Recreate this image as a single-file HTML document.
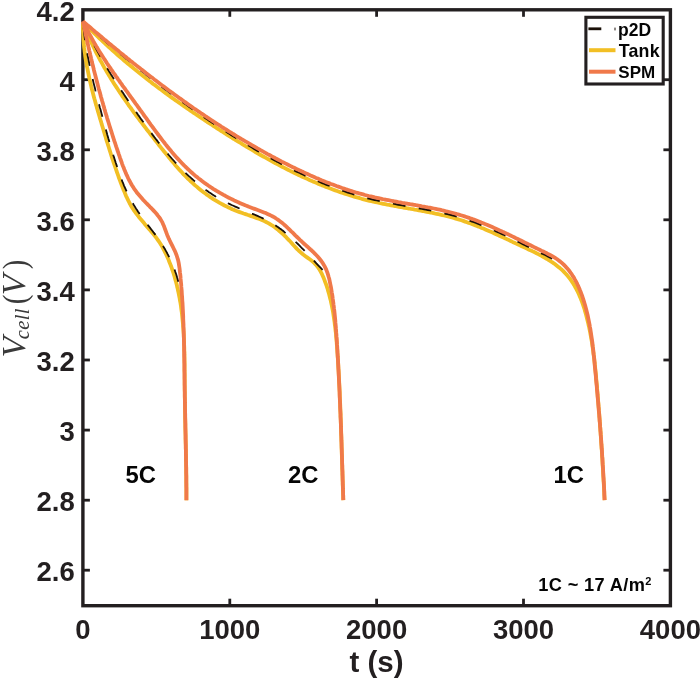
<!DOCTYPE html>
<html><head><meta charset="utf-8"><title>Discharge curves</title>
<style>html,body{margin:0;padding:0;background:#fff}svg{display:block}text{font-family:"Liberation Sans",Arial,sans-serif;font-weight:bold;fill:#231f20}.ser{font-family:"Liberation Serif","Times New Roman",serif;font-weight:normal;fill:#3a3a3a}.k{fill:#050505}</style></head><body>
<svg width="700" height="681" viewBox="0 0 700 681">
<rect width="700" height="681" fill="#fff"/>
<rect x="82.9" y="9.8" width="587.5" height="595.9000000000001" fill="none" stroke="#231f20" stroke-width="3.4"/>
<g stroke="#231f20" stroke-width="2.8"><line x1="229.8" y1="605.7" x2="229.8" y2="598.7"/><line x1="229.8" y1="9.8" x2="229.8" y2="16.8"/><line x1="376.6" y1="605.7" x2="376.6" y2="598.7"/><line x1="376.6" y1="9.8" x2="376.6" y2="16.8"/><line x1="523.5" y1="605.7" x2="523.5" y2="598.7"/><line x1="523.5" y1="9.8" x2="523.5" y2="16.8"/><line x1="82.9" y1="570.2" x2="89.9" y2="570.2"/><line x1="670.4" y1="570.2" x2="663.4" y2="570.2"/><line x1="82.9" y1="500.2" x2="89.9" y2="500.2"/><line x1="670.4" y1="500.2" x2="663.4" y2="500.2"/><line x1="82.9" y1="430.1" x2="89.9" y2="430.1"/><line x1="670.4" y1="430.1" x2="663.4" y2="430.1"/><line x1="82.9" y1="360.0" x2="89.9" y2="360.0"/><line x1="670.4" y1="360.0" x2="663.4" y2="360.0"/><line x1="82.9" y1="289.9" x2="89.9" y2="289.9"/><line x1="670.4" y1="289.9" x2="663.4" y2="289.9"/><line x1="82.9" y1="219.8" x2="89.9" y2="219.8"/><line x1="670.4" y1="219.8" x2="663.4" y2="219.8"/><line x1="82.9" y1="149.8" x2="89.9" y2="149.8"/><line x1="670.4" y1="149.8" x2="663.4" y2="149.8"/><line x1="82.9" y1="79.7" x2="89.9" y2="79.7"/><line x1="670.4" y1="79.7" x2="663.4" y2="79.7"/></g>
<g fill="none" stroke-linecap="butt" stroke-linejoin="round">
<path d="M83.0,21.9 L84.4,23.3 L85.8,24.8 L87.2,26.2 L88.6,27.6 L90.0,29.1 L91.4,30.5 L92.9,31.9 L94.3,33.3 L95.7,34.7 L97.2,36.1 L98.6,37.5 L100.0,38.8 L101.5,40.2 L103.0,41.6 L104.4,42.9 L105.9,44.3 L107.3,45.6 L108.8,47.0 L110.3,48.3 L111.8,49.7 L113.3,51.0 L114.8,52.3 L116.2,53.6 L117.7,55.0 L119.2,56.3 L120.7,57.6 L122.3,58.9 L123.8,60.2 L125.3,61.5 L126.8,62.7 L128.3,64.0 L129.9,65.3 L131.4,66.6 L132.9,67.8 L134.5,69.1 L136.0,70.3 L137.6,71.6 L139.1,72.8 L140.7,74.1 L142.2,75.3 L143.8,76.6 L145.4,77.8 L146.9,79.0 L148.5,80.2 L150.1,81.4 L151.7,82.7 L153.2,83.9 L154.8,85.1 L156.4,86.3 L158.0,87.5 L159.6,88.7 L161.2,89.8 L162.8,91.0 L164.4,92.2 L166.0,93.4 L167.6,94.6 L169.2,95.7 L170.8,96.9 L172.5,98.1 L174.1,99.2 L175.7,100.4 L177.3,101.5 L179.0,102.7 L180.6,103.8 L182.2,105.0 L183.9,106.1 L185.5,107.2 L187.2,108.4 L188.8,109.5 L190.4,110.6 L192.1,111.8 L193.7,112.9 L195.4,114.0 L197.1,115.1 L198.7,116.2 L200.4,117.3 L202.0,118.4 L203.7,119.5 L205.4,120.7 L207.0,121.8 L208.7,122.8 L210.4,123.9 L212.1,125.0 L213.7,126.1 L215.4,127.2 L217.1,128.3 L218.8,129.4 L220.5,130.5 L222.2,131.5 L223.9,132.6 L225.5,133.7 L227.2,134.8 L228.9,135.8 L230.6,136.9 L232.3,138.0 L234.0,139.0 L235.7,140.1 L237.4,141.1 L239.1,142.2 L240.9,143.2 L242.6,144.3 L244.3,145.3 L246.0,146.3 L247.7,147.4 L249.4,148.4 L251.2,149.4 L252.9,150.4 L254.6,151.5 L256.3,152.5 L258.1,153.5 L259.8,154.5 L261.5,155.5 L263.3,156.5 L265.0,157.4 L266.8,158.4 L268.5,159.4 L270.3,160.4 L272.0,161.3 L273.8,162.3 L275.5,163.2 L277.3,164.2 L279.0,165.1 L280.8,166.0 L282.6,167.0 L284.4,167.9 L286.1,168.8 L287.9,169.7 L289.7,170.6 L291.5,171.5 L293.3,172.4 L295.1,173.2 L296.8,174.1 L298.6,175.0 L300.4,175.8 L302.2,176.7 L304.1,177.5 L305.9,178.3 L307.7,179.1 L309.5,180.0 L311.3,180.8 L313.1,181.6 L315.0,182.3 L316.8,183.1 L318.6,183.9 L320.5,184.6 L322.3,185.4 L324.1,186.1 L326.0,186.9 L327.8,187.6 L329.7,188.3 L331.6,189.0 L333.4,189.7 L335.3,190.4 L337.1,191.0 L339.0,191.7 L340.9,192.4 L342.8,193.0 L344.7,193.6 L346.6,194.2 L348.4,194.8 L350.3,195.4 L352.2,196.0 L354.1,196.6 L356.1,197.2 L358.0,197.7 L359.9,198.2 L361.8,198.8 L363.7,199.3 L365.7,199.8 L367.6,200.3 L369.5,200.8 L371.5,201.2 L373.4,201.7 L375.4,202.1 L377.3,202.5 L379.3,203.0 L381.3,203.4 L383.2,203.8 L385.2,204.2 L387.2,204.6 L389.1,204.9 L391.1,205.3 L393.1,205.7 L395.0,206.0 L397.0,206.4 L399.0,206.8 L401.0,207.1 L403.0,207.5 L404.9,207.8 L406.9,208.2 L408.9,208.5 L410.9,208.9 L412.9,209.2 L414.8,209.6 L416.8,209.9 L418.8,210.3 L420.8,210.7 L422.7,211.0 L424.7,211.4 L426.7,211.8 L428.6,212.2 L430.6,212.5 L432.5,212.9 L434.5,213.4 L436.5,213.8 L438.4,214.2 L440.3,214.6 L442.3,215.1 L444.2,215.5 L446.1,216.0 L448.1,216.5 L450.0,217.0 L451.9,217.5 L453.8,218.0 L455.7,218.6 L457.6,219.1 L459.5,219.7 L461.4,220.3 L463.2,220.9 L465.1,221.6 L467.0,222.2 L468.8,222.9 L470.7,223.5 L472.5,224.2 L474.3,224.9 L476.2,225.6 L478.0,226.4 L479.8,227.1 L481.7,227.9 L483.5,228.6 L485.3,229.4 L487.1,230.2 L488.9,231.0 L490.8,231.8 L492.6,232.6 L494.4,233.4 L496.2,234.2 L498.0,235.1 L499.8,235.9 L501.6,236.7 L503.5,237.6 L505.3,238.4 L507.1,239.3 L508.9,240.1 L510.7,241.0 L512.6,241.9 L514.4,242.7 L516.2,243.6 L518.1,244.5 L519.9,245.3 L521.7,246.2 L523.6,247.0 L525.4,247.9 L527.3,248.8 L529.1,249.7 L531.0,250.5 L532.8,251.4 L534.7,252.3 L536.5,253.2 L538.3,254.1 L540.1,255.1 L541.9,256.0 L543.6,257.0 L545.4,258.0 L547.1,259.0 L548.8,260.1 L550.5,261.1 L552.1,262.2 L553.8,263.3 L555.4,264.5 L556.9,265.7 L558.4,266.9 L559.9,268.1 L561.4,269.4 L562.8,270.7 L564.2,272.1 L565.5,273.5 L566.8,274.9 L568.0,276.4 L569.2,277.9 L570.4,279.4 L571.5,281.0 L572.6,282.6 L573.6,284.2 L574.6,285.9 L575.5,287.6 L576.5,289.3 L577.4,291.0 L578.2,292.8 L579.0,294.6 L579.8,296.4 L580.6,298.2 L581.3,300.1 L582.0,301.9 L582.7,303.8 L583.3,305.7 L584.0,307.6 L584.6,309.5 L585.1,311.5 L585.7,313.4 L586.2,315.4 L586.7,317.3 L587.2,319.3 L587.7,321.2 L588.2,323.2 L588.6,325.2 L589.1,327.1 L589.5,329.1 L589.9,331.1 L590.3,333.1 L590.6,335.0 L591.0,337.0 L591.3,339.0 L591.7,341.0 L592.0,343.0 L592.3,344.9 L592.6,346.9 L592.9,348.9 L593.2,350.9 L593.4,352.9 L593.7,354.9 L593.9,356.9 L594.2,358.9 L594.4,360.9 L594.6,362.9 L594.9,364.9 L595.1,366.9 L595.3,368.9 L595.5,370.9 L595.7,372.8 L595.9,374.8 L596.1,376.8 L596.2,378.8 L596.4,380.8 L596.6,382.8 L596.8,384.8 L597.0,386.8 L597.1,388.8 L597.3,390.8 L597.5,392.8 L597.6,394.8 L597.8,396.8 L598.0,398.7 L598.1,400.7 L598.3,402.7 L598.5,404.7 L598.6,406.7 L598.8,408.7 L598.9,410.7 L599.1,412.6 L599.3,414.6 L599.4,416.6 L599.6,418.6 L599.7,420.6 L599.9,422.6 L600.0,424.5 L600.1,426.5 L600.3,428.5 L600.4,430.5 L600.6,432.5 L600.7,434.5 L600.8,436.4 L601.0,438.4 L601.1,440.4 L601.2,442.4 L601.4,444.4 L601.5,446.4 L601.6,448.4 L601.8,450.3 L601.9,452.3 L602.0,454.3 L602.1,456.3 L602.3,458.3 L602.4,460.3 L602.5,462.3 L602.6,464.2 L602.7,466.2 L602.9,468.2 L603.0,470.2 L603.1,472.2 L603.2,474.2 L603.3,476.2 L603.4,478.2 L603.5,480.2 L603.7,482.2 L603.8,484.2 L603.9,486.2 L604.0,488.2 L604.1,490.2 L604.2,492.2 L604.3,494.2 L604.4,496.2 L604.5,498.2 L604.6,500.2" stroke="#f2bf24" stroke-width="3.8"/>
<path d="M83.0,22.0 L83.7,23.9 L84.4,25.7 L85.1,27.6 L85.8,29.5 L86.6,31.3 L87.3,33.2 L88.1,35.0 L88.9,36.8 L89.7,38.7 L90.5,40.5 L91.3,42.3 L92.2,44.1 L93.0,45.9 L93.9,47.7 L94.7,49.5 L95.6,51.3 L96.5,53.1 L97.4,54.9 L98.4,56.6 L99.3,58.4 L100.2,60.2 L101.2,61.9 L102.2,63.7 L103.1,65.4 L104.1,67.2 L105.1,68.9 L106.1,70.6 L107.1,72.3 L108.2,74.1 L109.2,75.8 L110.3,77.5 L111.3,79.2 L112.4,80.9 L113.4,82.6 L114.5,84.3 L115.6,85.9 L116.7,87.6 L117.8,89.3 L118.9,91.0 L120.0,92.6 L121.1,94.3 L122.2,96.0 L123.4,97.6 L124.5,99.2 L125.7,100.9 L126.8,102.5 L128.0,104.2 L129.1,105.8 L130.3,107.4 L131.5,109.0 L132.6,110.7 L133.8,112.3 L135.0,113.9 L136.2,115.5 L137.4,117.1 L138.6,118.7 L139.8,120.3 L141.0,121.9 L142.2,123.4 L143.4,125.0 L144.6,126.6 L145.8,128.2 L147.0,129.8 L148.2,131.3 L149.5,132.9 L150.7,134.5 L151.9,136.1 L153.2,137.6 L154.4,139.2 L155.6,140.8 L156.9,142.3 L158.1,143.9 L159.3,145.5 L160.6,147.1 L161.8,148.6 L163.1,150.2 L164.3,151.8 L165.6,153.3 L166.9,154.9 L168.1,156.4 L169.4,158.0 L170.7,159.5 L171.9,161.1 L173.2,162.6 L174.5,164.1 L175.8,165.7 L177.2,167.2 L178.5,168.7 L179.8,170.2 L181.2,171.6 L182.5,173.1 L183.9,174.6 L185.3,176.0 L186.7,177.4 L188.1,178.8 L189.6,180.2 L191.0,181.6 L192.5,182.9 L194.0,184.3 L195.4,185.6 L197.0,186.9 L198.5,188.2 L200.0,189.4 L201.6,190.7 L203.2,191.9 L204.7,193.1 L206.3,194.3 L208.0,195.4 L209.6,196.6 L211.2,197.7 L212.9,198.8 L214.6,199.9 L216.3,200.9 L218.0,201.9 L219.7,202.9 L221.5,203.9 L223.2,204.8 L225.0,205.8 L226.8,206.6 L228.6,207.5 L230.4,208.3 L232.2,209.2 L234.1,209.9 L236.0,210.7 L237.8,211.4 L239.7,212.1 L241.6,212.8 L243.6,213.5 L245.5,214.1 L247.4,214.8 L249.3,215.4 L251.2,216.1 L253.1,216.7 L255.0,217.4 L256.9,218.1 L258.8,218.8 L260.7,219.5 L262.5,220.3 L264.3,221.1 L266.1,222.0 L267.8,222.9 L269.5,223.8 L271.2,224.9 L272.9,225.9 L274.5,227.0 L276.0,228.2 L277.6,229.4 L279.1,230.7 L280.6,232.0 L282.1,233.3 L283.5,234.6 L284.9,236.0 L286.4,237.4 L287.7,238.9 L289.1,240.3 L290.5,241.8 L291.8,243.2 L293.1,244.7 L294.5,246.2 L295.8,247.6 L297.2,249.1 L298.6,250.5 L300.1,251.8 L301.6,253.2 L303.2,254.5 L304.8,255.7 L306.4,256.9 L308.1,258.1 L309.8,259.3 L311.4,260.5 L313.0,261.8 L314.4,263.1 L315.8,264.6 L317.0,266.1 L318.2,267.6 L319.3,269.3 L320.3,270.9 L321.2,272.7 L322.1,274.4 L322.9,276.2 L323.7,278.1 L324.4,279.9 L325.1,281.8 L325.8,283.6 L326.5,285.5 L327.1,287.4 L327.7,289.3 L328.2,291.2 L328.8,293.1 L329.3,295.0 L329.8,297.0 L330.3,298.9 L330.8,300.8 L331.2,302.8 L331.6,304.7 L332.0,306.7 L332.4,308.6 L332.8,310.6 L333.1,312.5 L333.4,314.5 L333.7,316.5 L334.0,318.5 L334.3,320.4 L334.6,322.4 L334.8,324.4 L335.1,326.4 L335.3,328.4 L335.5,330.4 L335.8,332.4 L336.0,334.4 L336.1,336.4 L336.3,338.4 L336.5,340.4 L336.7,342.4 L336.8,344.4 L337.0,346.4 L337.1,348.4 L337.3,350.4 L337.4,352.4 L337.6,354.4 L337.7,356.4 L337.8,358.4 L338.0,360.4 L338.1,362.4 L338.2,364.4 L338.3,366.4 L338.4,368.4 L338.6,370.4 L338.7,372.4 L338.8,374.4 L338.9,376.4 L339.0,378.4 L339.1,380.4 L339.2,382.4 L339.3,384.4 L339.4,386.4 L339.5,388.4 L339.6,390.4 L339.7,392.4 L339.8,394.4 L339.8,396.4 L339.9,398.4 L340.0,400.3 L340.1,402.3 L340.2,404.3 L340.3,406.3 L340.3,408.3 L340.4,410.3 L340.5,412.3 L340.6,414.3 L340.6,416.3 L340.7,418.3 L340.8,420.3 L340.8,422.3 L340.9,424.3 L341.0,426.3 L341.0,428.3 L341.1,430.3 L341.2,432.3 L341.2,434.2 L341.3,436.2 L341.3,438.2 L341.4,440.2 L341.5,442.2 L341.5,444.2 L341.6,446.2 L341.6,448.2 L341.7,450.2 L341.8,452.2 L341.8,454.2 L341.9,456.2 L341.9,458.2 L342.0,460.2 L342.1,462.2 L342.1,464.2 L342.2,466.2 L342.2,468.2 L342.3,470.2 L342.4,472.2 L342.4,474.2 L342.5,476.2 L342.6,478.2 L342.6,480.2 L342.7,482.2 L342.7,484.2 L342.8,486.2 L342.9,488.2 L342.9,490.2 L343.0,492.2 L343.1,494.2 L343.2,496.2 L343.2,498.2 L343.3,500.2" stroke="#f2bf24" stroke-width="3.8"/>
<path d="M83.0,22.0 L83.0,24.0 L83.0,26.0 L83.0,28.1 L83.0,30.1 L83.1,32.1 L83.2,34.1 L83.3,36.1 L83.4,38.1 L83.5,40.1 L83.7,42.1 L83.8,44.0 L84.0,46.0 L84.2,48.0 L84.5,50.0 L84.7,52.0 L85.0,54.0 L85.2,55.9 L85.5,57.9 L85.8,59.9 L86.2,61.8 L86.5,63.8 L86.8,65.8 L87.2,67.7 L87.6,69.7 L88.0,71.6 L88.4,73.6 L88.8,75.5 L89.2,77.5 L89.6,79.4 L90.1,81.4 L90.5,83.3 L91.0,85.3 L91.4,87.2 L91.9,89.2 L92.4,91.1 L92.9,93.0 L93.4,95.0 L93.9,96.9 L94.4,98.8 L95.0,100.8 L95.5,102.7 L96.0,104.6 L96.6,106.5 L97.1,108.5 L97.7,110.4 L98.2,112.3 L98.8,114.2 L99.4,116.2 L99.9,118.1 L100.5,120.0 L101.1,121.9 L101.6,123.9 L102.2,125.8 L102.8,127.7 L103.4,129.6 L103.9,131.5 L104.5,133.4 L105.1,135.4 L105.7,137.3 L106.2,139.2 L106.8,141.1 L107.4,143.0 L108.0,144.9 L108.6,146.8 L109.2,148.7 L109.8,150.6 L110.4,152.5 L111.0,154.5 L111.6,156.4 L112.2,158.3 L112.9,160.2 L113.5,162.1 L114.1,163.9 L114.8,165.8 L115.4,167.7 L116.1,169.6 L116.7,171.5 L117.4,173.4 L118.1,175.3 L118.7,177.2 L119.4,179.0 L120.1,180.9 L120.8,182.8 L121.5,184.7 L122.3,186.5 L123.0,188.4 L123.7,190.3 L124.5,192.1 L125.3,194.0 L126.0,195.8 L126.9,197.6 L127.7,199.4 L128.6,201.2 L129.5,203.0 L130.4,204.7 L131.4,206.5 L132.5,208.1 L133.6,209.8 L134.7,211.4 L135.9,213.0 L137.1,214.6 L138.3,216.2 L139.5,217.8 L140.8,219.3 L142.1,220.8 L143.4,222.3 L144.7,223.9 L146.0,225.4 L147.3,226.9 L148.6,228.4 L149.9,229.9 L151.2,231.5 L152.5,233.0 L153.8,234.5 L155.0,236.1 L156.2,237.7 L157.4,239.3 L158.5,240.9 L159.6,242.5 L160.7,244.2 L161.7,245.9 L162.7,247.6 L163.6,249.4 L164.5,251.1 L165.4,252.9 L166.3,254.7 L167.1,256.5 L167.9,258.3 L168.7,260.1 L169.4,262.0 L170.2,263.9 L170.9,265.7 L171.6,267.6 L172.2,269.5 L172.9,271.4 L173.5,273.3 L174.1,275.3 L174.7,277.2 L175.2,279.1 L175.8,281.1 L176.3,283.0 L176.8,284.9 L177.2,286.9 L177.7,288.8 L178.1,290.8 L178.5,292.7 L178.9,294.7 L179.3,296.6 L179.7,298.6 L180.0,300.6 L180.4,302.5 L180.7,304.5 L181.0,306.5 L181.2,308.4 L181.5,310.4 L181.8,312.4 L182.0,314.4 L182.2,316.3 L182.4,318.3 L182.6,320.3 L182.8,322.3 L183.0,324.3 L183.1,326.3 L183.3,328.2 L183.4,330.2 L183.6,332.2 L183.7,334.2 L183.8,336.2 L183.9,338.2 L184.0,340.2 L184.1,342.2 L184.1,344.2 L184.2,346.2 L184.3,348.2 L184.3,350.2 L184.4,352.2 L184.4,354.2 L184.5,356.2 L184.5,358.2 L184.5,360.2 L184.6,362.2 L184.6,364.2 L184.6,366.2 L184.6,368.2 L184.6,370.2 L184.6,372.2 L184.7,374.3 L184.7,376.3 L184.7,378.3 L184.7,380.3 L184.7,382.3 L184.7,384.3 L184.7,386.3 L184.7,388.3 L184.8,390.3 L184.8,392.3 L184.8,394.3 L184.8,396.3 L184.8,398.3 L184.9,400.3 L184.9,402.3 L184.9,404.3 L185.0,406.3 L185.0,408.3 L185.0,410.3 L185.1,412.3 L185.1,414.3 L185.1,416.3 L185.2,418.3 L185.2,420.3 L185.3,422.3 L185.3,424.3 L185.3,426.3 L185.4,428.3 L185.4,430.3 L185.5,432.2 L185.5,434.2 L185.6,436.2 L185.6,438.2 L185.6,440.2 L185.7,442.2 L185.7,444.2 L185.8,446.2 L185.8,448.2 L185.9,450.2 L185.9,452.2 L185.9,454.2 L186.0,456.2 L186.0,458.2 L186.0,460.2 L186.1,462.2 L186.1,464.2 L186.2,466.2 L186.2,468.2 L186.2,470.2 L186.2,472.2 L186.3,474.2 L186.3,476.2 L186.3,478.2 L186.3,480.2 L186.3,482.2 L186.4,484.2 L186.4,486.2 L186.4,488.2 L186.4,490.2 L186.4,492.2 L186.4,494.2 L186.4,496.2 L186.4,498.2 L186.4,500.2" stroke="#f2bf24" stroke-width="3.8"/>
<path d="M83.0,21.6 L84.5,22.9 L86.0,24.3 L87.5,25.6 L89.1,26.9 L90.6,28.3 L92.1,29.6 L93.6,30.9 L95.1,32.3 L96.7,33.6 L98.2,34.9 L99.7,36.3 L101.3,37.6 L102.8,38.9 L104.3,40.2 L105.8,41.5 L107.4,42.9 L108.9,44.2 L110.5,45.5 L112.0,46.8 L113.5,48.1 L115.1,49.3 L116.6,50.6 L118.2,51.9 L119.7,53.2 L121.3,54.5 L122.8,55.7 L124.4,57.0 L125.9,58.3 L127.5,59.5 L129.1,60.8 L130.6,62.1 L132.2,63.3 L133.7,64.6 L135.3,65.8 L136.9,67.1 L138.4,68.4 L140.0,69.6 L141.6,70.9 L143.2,72.1 L144.7,73.3 L146.3,74.6 L147.9,75.8 L149.5,77.1 L151.1,78.3 L152.7,79.5 L154.2,80.8 L155.8,82.0 L157.4,83.2 L159.0,84.4 L160.6,85.6 L162.2,86.9 L163.8,88.1 L165.4,89.3 L167.0,90.5 L168.6,91.7 L170.2,92.9 L171.9,94.1 L173.5,95.3 L175.1,96.5 L176.7,97.7 L178.3,98.9 L179.9,100.0 L181.6,101.2 L183.2,102.4 L184.8,103.6 L186.5,104.7 L188.1,105.9 L189.7,107.1 L191.4,108.2 L193.0,109.4 L194.6,110.5 L196.3,111.7 L197.9,112.8 L199.6,114.0 L201.2,115.1 L202.9,116.3 L204.5,117.4 L206.2,118.5 L207.9,119.6 L209.5,120.8 L211.2,121.9 L212.9,123.0 L214.5,124.1 L216.2,125.2 L217.9,126.3 L219.6,127.4 L221.2,128.5 L222.9,129.6 L224.6,130.7 L226.3,131.7 L228.0,132.8 L229.7,133.9 L231.4,135.0 L233.1,136.0 L234.8,137.1 L236.5,138.1 L238.2,139.2 L239.9,140.2 L241.6,141.3 L243.3,142.3 L245.0,143.4 L246.8,144.4 L248.5,145.4 L250.2,146.4 L251.9,147.4 L253.7,148.5 L255.4,149.5 L257.1,150.5 L258.9,151.5 L260.6,152.5 L262.4,153.4 L264.1,154.4 L265.9,155.4 L267.6,156.4 L269.4,157.3 L271.1,158.3 L272.9,159.3 L274.6,160.2 L276.4,161.2 L278.2,162.1 L280.0,163.1 L281.7,164.0 L283.5,164.9 L285.3,165.8 L287.1,166.8 L288.9,167.7 L290.7,168.6 L292.4,169.5 L294.2,170.3 L296.0,171.2 L297.8,172.1 L299.7,172.9 L301.5,173.8 L303.3,174.6 L305.1,175.5 L306.9,176.3 L308.7,177.1 L310.6,178.0 L312.4,178.8 L314.2,179.6 L316.1,180.4 L317.9,181.1 L319.7,181.9 L321.6,182.7 L323.4,183.4 L325.3,184.2 L327.1,184.9 L329.0,185.6 L330.9,186.4 L332.7,187.1 L334.6,187.8 L336.5,188.5 L338.3,189.1 L340.2,189.8 L342.1,190.5 L344.0,191.1 L345.9,191.7 L347.8,192.4 L349.7,193.0 L351.6,193.6 L353.5,194.2 L355.4,194.8 L357.3,195.3 L359.2,195.9 L361.2,196.4 L363.1,196.9 L365.0,197.5 L366.9,198.0 L368.9,198.5 L370.8,198.9 L372.8,199.4 L374.7,199.9 L376.7,200.3 L378.6,200.7 L380.6,201.1 L382.5,201.6 L384.5,202.0 L386.5,202.3 L388.4,202.7 L390.4,203.1 L392.4,203.5 L394.3,203.8 L396.3,204.2 L398.3,204.6 L400.3,204.9 L402.2,205.3 L404.2,205.6 L406.2,206.0 L408.2,206.3 L410.1,206.7 L412.1,207.0 L414.1,207.3 L416.1,207.7 L418.0,208.0 L420.0,208.4 L422.0,208.8 L424.0,209.1 L425.9,209.5 L427.9,209.9 L429.9,210.2 L431.8,210.6 L433.8,211.0 L435.7,211.4 L437.7,211.8 L439.6,212.2 L441.6,212.7 L443.5,213.1 L445.4,213.6 L447.4,214.0 L449.3,214.5 L451.2,215.0 L453.2,215.5 L455.1,216.0 L457.0,216.6 L458.9,217.1 L460.8,217.7 L462.7,218.3 L464.6,218.9 L466.4,219.5 L468.3,220.1 L470.2,220.8 L472.1,221.4 L473.9,222.1 L475.8,222.8 L477.6,223.5 L479.5,224.2 L481.3,225.0 L483.2,225.7 L485.0,226.5 L486.9,227.2 L488.7,228.0 L490.5,228.8 L492.3,229.6 L494.2,230.4 L496.0,231.2 L497.8,232.1 L499.6,232.9 L501.5,233.7 L503.3,234.6 L505.1,235.4 L506.9,236.3 L508.7,237.1 L510.5,238.0 L512.3,238.9 L514.2,239.8 L516.0,240.7 L517.8,241.5 L519.6,242.4 L521.4,243.3 L523.2,244.2 L525.0,245.1 L526.8,246.0 L528.7,246.9 L530.5,247.8 L532.3,248.7 L534.1,249.6 L535.9,250.5 L537.8,251.4 L539.6,252.3 L541.4,253.2 L543.3,254.0 L545.1,254.9 L546.9,255.8 L548.7,256.8 L550.5,257.7 L552.2,258.7" stroke="#1a1008" stroke-width="2.1" stroke-dasharray="12.8 13.4" stroke-dashoffset="3.1"/>
<path d="M83.0,22.0 L83.8,23.8 L84.7,25.7 L85.5,27.5 L86.3,29.3 L87.2,31.2 L88.1,33.0 L89.0,34.8 L89.8,36.6 L90.7,38.4 L91.6,40.2 L92.5,41.9 L93.5,43.7 L94.4,45.5 L95.3,47.3 L96.3,49.0 L97.2,50.8 L98.2,52.5 L99.1,54.2 L100.1,56.0 L101.1,57.7 L102.1,59.4 L103.1,61.2 L104.1,62.9 L105.1,64.6 L106.1,66.3 L107.1,68.0 L108.1,69.7 L109.1,71.4 L110.2,73.1 L111.2,74.8 L112.3,76.4 L113.3,78.1 L114.4,79.8 L115.5,81.5 L116.5,83.1 L117.6,84.8 L118.7,86.5 L119.8,88.1 L120.9,89.8 L122.0,91.5 L123.1,93.1 L124.2,94.8 L125.3,96.4 L126.4,98.1 L127.5,99.7 L128.7,101.4 L129.8,103.0 L130.9,104.6 L132.1,106.3 L133.2,107.9 L134.4,109.6 L135.5,111.2 L136.7,112.8 L137.8,114.5 L139.0,116.1 L140.1,117.7 L141.3,119.4 L142.5,121.0 L143.7,122.6 L144.8,124.3 L146.0,125.9 L147.2,127.5 L148.4,129.1 L149.6,130.8 L150.8,132.4 L152.0,134.0 L153.2,135.6 L154.4,137.2 L155.6,138.8 L156.9,140.4 L158.1,142.0 L159.4,143.6 L160.6,145.2 L161.9,146.7 L163.1,148.3 L164.4,149.9 L165.7,151.4 L167.0,152.9 L168.3,154.5 L169.6,156.0 L170.9,157.5 L172.2,159.0 L173.6,160.5 L174.9,162.0 L176.2,163.4 L177.6,164.9 L179.0,166.3 L180.4,167.8 L181.8,169.2 L183.2,170.6 L184.6,172.0 L186.0,173.4 L187.5,174.8 L188.9,176.1 L190.4,177.4 L191.9,178.8 L193.4,180.1 L194.9,181.4 L196.4,182.6 L197.9,183.9 L199.5,185.1 L201.0,186.3 L202.6,187.5 L204.2,188.7 L205.8,189.9 L207.4,191.0 L209.0,192.2 L210.7,193.3 L212.4,194.4 L214.0,195.4 L215.7,196.5 L217.4,197.5 L219.2,198.5 L220.9,199.5 L222.7,200.4 L224.4,201.4 L226.2,202.3 L228.0,203.2 L229.8,204.1 L231.6,205.0 L233.4,205.8 L235.2,206.6 L237.1,207.4 L238.9,208.2 L240.8,209.0 L242.6,209.8 L244.5,210.5 L246.4,211.3 L248.2,212.0 L250.1,212.8 L252.0,213.6 L253.8,214.3 L255.6,215.1 L257.5,215.9 L259.3,216.7 L261.1,217.5 L262.9,218.4 L264.7,219.2 L266.5,220.1 L268.2,221.1 L269.9,222.0 L271.6,223.0 L273.3,224.0 L275.0,225.1 L276.6,226.2 L278.2,227.3 L279.8,228.5 L281.4,229.6 L283.0,230.8 L284.5,232.1 L286.1,233.3 L287.6,234.6 L289.1,235.9 L290.6,237.2 L292.1,238.5 L293.5,239.9 L295.0,241.3 L296.4,242.6 L297.9,244.0 L299.3,245.4 L300.7,246.9 L302.1,248.3 L303.5,249.7 L304.9,251.2 L306.3,252.6 L307.7,254.1 L309.1,255.6 L310.4,257.0 L311.8,258.5 L313.2,259.9 L314.6,261.4 L315.9,262.9 L317.3,264.3 L318.7,265.8 L320.0,267.2 L321.4,268.7 L322.8,270.1" stroke="#1a1008" stroke-width="1.8" stroke-dasharray="12.8 13.4" stroke-dashoffset="0.2"/>
<path d="M83.0,22.0 L83.2,24.0 L83.4,26.0 L83.6,27.9 L83.8,29.9 L84.0,31.9 L84.2,33.9 L84.5,35.8 L84.7,37.8 L85.0,39.8 L85.3,41.7 L85.6,43.7 L85.9,45.6 L86.2,47.6 L86.6,49.6 L86.9,51.5 L87.3,53.5 L87.6,55.4 L88.0,57.4 L88.4,59.3 L88.8,61.3 L89.2,63.2 L89.6,65.2 L90.0,67.1 L90.4,69.1 L90.8,71.0 L91.3,72.9 L91.7,74.9 L92.1,76.8 L92.6,78.8 L93.1,80.7 L93.5,82.6 L94.0,84.6 L94.5,86.5 L95.0,88.4 L95.4,90.4 L95.9,92.3 L96.4,94.2 L96.9,96.1 L97.4,98.1 L97.9,100.0 L98.4,101.9 L98.9,103.8 L99.4,105.8 L99.9,107.7 L100.5,109.6 L101.0,111.5 L101.5,113.4 L102.0,115.3 L102.5,117.3 L103.0,119.2 L103.5,121.1 L104.1,123.0 L104.6,124.9 L105.1,126.8 L105.6,128.7 L106.2,130.7 L106.7,132.6 L107.2,134.5 L107.8,136.4 L108.3,138.3 L108.9,140.2 L109.4,142.1 L110.0,144.0 L110.6,145.9 L111.1,147.8 L111.7,149.7 L112.3,151.6 L112.9,153.5 L113.4,155.4 L114.0,157.3 L114.6,159.2 L115.2,161.1 L115.8,163.0 L116.5,164.9 L117.1,166.8 L117.7,168.7 L118.4,170.6 L119.0,172.5 L119.7,174.4 L120.4,176.3 L121.1,178.1 L121.8,180.0 L122.5,181.9 L123.3,183.7 L124.0,185.6 L124.8,187.4 L125.6,189.2 L126.4,191.0 L127.3,192.8 L128.1,194.6 L129.0,196.4 L129.9,198.1 L130.9,199.9 L131.8,201.6 L132.8,203.3 L133.8,205.0 L134.9,206.7 L135.9,208.4 L137.0,210.0 L138.1,211.7 L139.2,213.3 L140.3,214.9 L141.5,216.5 L142.7,218.1 L143.8,219.7 L145.0,221.3 L146.2,222.9 L147.4,224.5 L148.7,226.1 L149.9,227.6 L151.1,229.2 L152.3,230.8 L153.5,232.4 L154.7,233.9 L155.9,235.5 L157.1,237.1 L158.2,238.8 L159.4,240.4 L160.5,242.0 L161.5,243.7 L162.6,245.3 L163.6,247.0 L164.7,248.7 L165.6,250.4 L166.6,252.1 L167.5,253.9 L168.4,255.6 L169.3,257.4 L170.2,259.2 L171.0,261.0 L171.8,262.8 L172.6,264.6 L173.3,266.5 L174.1,268.3 L174.8,270.2 L175.4,272.1 L176.1,274.0 L176.7,275.9 L177.2,277.8 L177.8,279.7 L178.3,281.7" stroke="#1a1008" stroke-width="1.8" stroke-dasharray="12.8 13.4" stroke-dashoffset="20.8"/>
<path d="M83.0,21.3 L84.5,22.6 L86.0,23.9 L87.5,25.2 L89.1,26.5 L90.6,27.8 L92.1,29.1 L93.6,30.4 L95.1,31.7 L96.7,32.9 L98.2,34.2 L99.7,35.5 L101.3,36.8 L102.8,38.1 L104.3,39.4 L105.8,40.6 L107.4,41.9 L108.9,43.2 L110.5,44.5 L112.0,45.8 L113.5,47.0 L115.1,48.3 L116.6,49.6 L118.2,50.8 L119.7,52.1 L121.3,53.4 L122.8,54.6 L124.4,55.9 L125.9,57.1 L127.5,58.4 L129.1,59.6 L130.6,60.9 L132.2,62.1 L133.7,63.4 L135.3,64.6 L136.9,65.9 L138.4,67.1 L140.0,68.3 L141.6,69.6 L143.2,70.8 L144.7,72.0 L146.3,73.3 L147.9,74.5 L149.5,75.7 L151.1,76.9 L152.7,78.1 L154.2,79.4 L155.8,80.6 L157.4,81.8 L159.0,83.0 L160.6,84.2 L162.2,85.4 L163.8,86.6 L165.4,87.8 L167.0,89.0 L168.6,90.2 L170.2,91.4 L171.9,92.5 L173.5,93.7 L175.1,94.9 L176.7,96.1 L178.3,97.2 L179.9,98.4 L181.6,99.6 L183.2,100.7 L184.8,101.9 L186.5,103.1 L188.1,104.2 L189.7,105.4 L191.4,106.5 L193.0,107.7 L194.6,108.8 L196.3,109.9 L197.9,111.1 L199.6,112.2 L201.2,113.3 L202.9,114.4 L204.5,115.5 L206.2,116.7 L207.9,117.8 L209.5,118.9 L211.2,120.0 L212.9,121.1 L214.5,122.2 L216.2,123.3 L217.9,124.4 L219.6,125.4 L221.2,126.5 L222.9,127.6 L224.6,128.7 L226.3,129.7 L228.0,130.8 L229.7,131.9 L231.4,132.9 L233.1,134.0 L234.8,135.0 L236.5,136.1 L238.2,137.1 L239.9,138.1 L241.6,139.2 L243.3,140.2 L245.0,141.2 L246.8,142.2 L248.5,143.2 L250.2,144.2 L251.9,145.2 L253.7,146.2 L255.4,147.2 L257.1,148.2 L258.9,149.2 L260.6,150.2 L262.4,151.2 L264.1,152.1 L265.9,153.1 L267.6,154.1 L269.4,155.0 L271.1,156.0 L272.9,156.9 L274.6,157.8 L276.4,158.8 L278.2,159.7 L280.0,160.6 L281.7,161.6 L283.5,162.5 L285.3,163.4 L287.1,164.3 L288.9,165.2 L290.7,166.1 L292.4,167.0 L294.2,167.8 L296.0,168.7 L297.8,169.6 L299.7,170.4 L301.5,171.3 L303.3,172.1 L305.1,173.0 L306.9,173.8 L308.7,174.6 L310.6,175.5 L312.4,176.3 L314.2,177.1 L316.1,177.9 L317.9,178.6 L319.7,179.4 L321.6,180.2 L323.4,180.9 L325.3,181.7 L327.1,182.4 L329.0,183.1 L330.9,183.9 L332.7,184.6 L334.6,185.3 L336.5,186.0 L338.3,186.6 L340.2,187.3 L342.1,188.0 L344.0,188.6 L345.9,189.2 L347.8,189.9 L349.7,190.5 L351.6,191.1 L353.5,191.7 L355.4,192.3 L357.3,192.8 L359.2,193.4 L361.2,193.9 L363.1,194.4 L365.0,195.0 L366.9,195.5 L368.9,196.0 L370.8,196.4 L372.8,196.9 L374.7,197.4 L376.7,197.8 L378.6,198.2 L380.6,198.6 L382.5,199.1 L384.5,199.5 L386.5,199.8 L388.4,200.2 L390.4,200.6 L392.4,201.0 L394.3,201.3 L396.3,201.7 L398.3,202.1 L400.3,202.4 L402.2,202.8 L404.2,203.1 L406.2,203.5 L408.2,203.8 L410.1,204.2 L412.1,204.5 L414.1,204.8 L416.1,205.2 L418.0,205.5 L420.0,205.9 L422.0,206.3 L424.0,206.6 L425.9,207.0 L427.9,207.4 L429.9,207.7 L431.8,208.1 L433.8,208.5 L435.7,208.9 L437.7,209.3 L439.6,209.7 L441.6,210.2 L443.5,210.6 L445.4,211.1 L447.4,211.5 L449.3,212.0 L451.2,212.5 L453.2,213.0 L455.1,213.5 L457.0,214.1 L458.9,214.6 L460.8,215.2 L462.7,215.8 L464.6,216.4 L466.4,217.0 L468.3,217.6 L470.2,218.3 L472.1,218.9 L473.9,219.6 L475.8,220.3 L477.6,221.0 L479.5,221.7 L481.3,222.5 L483.2,223.2 L485.0,224.0 L486.9,224.7 L488.7,225.5 L490.5,226.3 L492.3,227.1 L494.2,227.9 L496.0,228.7 L497.8,229.6 L499.6,230.4 L501.5,231.2 L503.3,232.1 L505.1,232.9 L506.9,233.8 L508.7,234.6 L510.5,235.5 L512.3,236.4 L514.2,237.3 L516.0,238.2 L517.8,239.0 L519.6,239.9 L521.4,240.8 L523.2,241.7 L525.0,242.6 L526.8,243.5 L528.7,244.4 L530.5,245.3 L532.3,246.2 L534.1,247.1 L535.9,248.0 L537.8,248.9 L539.6,249.8 L541.4,250.7 L543.3,251.5 L545.1,252.4 L546.9,253.3 L548.7,254.3 L550.5,255.2 L552.2,256.2 L553.9,257.2 L555.6,258.2 L557.2,259.3 L558.8,260.5 L560.3,261.6 L561.8,262.9 L563.2,264.2 L564.6,265.5 L565.9,266.9 L567.1,268.3 L568.4,269.8 L569.6,271.3 L570.7,272.9 L571.8,274.4 L572.8,276.1 L573.9,277.7 L574.8,279.4 L575.8,281.1 L576.7,282.8 L577.5,284.6 L578.4,286.4 L579.2,288.2 L579.9,290.0 L580.7,291.9 L581.4,293.8 L582.1,295.6 L582.7,297.5 L583.3,299.4 L583.9,301.4 L584.5,303.3 L585.1,305.2 L585.6,307.2 L586.1,309.1 L586.6,311.0 L587.1,313.0 L587.6,314.9 L588.0,316.9 L588.4,318.9 L588.8,320.8 L589.2,322.8 L589.6,324.8 L589.9,326.8 L590.3,328.7 L590.6,330.7 L590.9,332.7 L591.2,334.7 L591.5,336.7 L591.8,338.7 L592.1,340.7 L592.4,342.7 L592.6,344.7 L592.8,346.7 L593.1,348.7 L593.3,350.7 L593.5,352.7 L593.7,354.7 L594.0,356.7 L594.2,358.7 L594.4,360.7 L594.6,362.7 L594.7,364.7 L594.9,366.7 L595.1,368.7 L595.3,370.7 L595.5,372.7 L595.7,374.7 L595.9,376.7 L596.0,378.7 L596.2,380.7 L596.4,382.7 L596.6,384.7 L596.8,386.7 L596.9,388.7 L597.1,390.7 L597.3,392.7 L597.5,394.7 L597.6,396.6 L597.8,398.6 L598.0,400.6 L598.2,402.6 L598.3,404.6 L598.5,406.6 L598.7,408.6 L598.8,410.6 L599.0,412.5 L599.2,414.5 L599.3,416.5 L599.5,418.5 L599.6,420.5 L599.8,422.5 L600.0,424.4 L600.1,426.4 L600.3,428.4 L600.4,430.4 L600.6,432.4 L600.7,434.4 L600.9,436.3 L601.0,438.3 L601.2,440.3 L601.3,442.3 L601.4,444.3 L601.6,446.3 L601.7,448.3 L601.9,450.2 L602.0,452.2 L602.1,454.2 L602.2,456.2 L602.4,458.2 L602.5,460.2 L602.6,462.2 L602.7,464.2 L602.9,466.2 L603.0,468.2 L603.1,470.1 L603.2,472.1 L603.3,474.1 L603.4,476.1 L603.6,478.1 L603.7,480.1 L603.8,482.1 L603.9,484.1 L604.0,486.1 L604.1,488.1 L604.2,490.2 L604.3,492.2 L604.3,494.2 L604.4,496.2 L604.5,498.2 L604.6,500.2" stroke="#f0794a" stroke-width="3.8"/>
<path d="M83.0,21.3 L83.9,23.1 L84.8,25.0 L85.6,26.8 L86.6,28.6 L87.5,30.4 L88.4,32.2 L89.3,34.0 L90.3,35.7 L91.3,37.5 L92.2,39.2 L93.2,41.0 L94.2,42.7 L95.2,44.4 L96.2,46.2 L97.3,47.9 L98.3,49.6 L99.3,51.3 L100.4,53.0 L101.4,54.6 L102.5,56.3 L103.6,58.0 L104.7,59.7 L105.8,61.3 L106.8,63.0 L107.9,64.6 L109.1,66.3 L110.2,67.9 L111.3,69.6 L112.4,71.2 L113.5,72.8 L114.7,74.4 L115.8,76.1 L117.0,77.7 L118.1,79.3 L119.3,80.9 L120.4,82.6 L121.6,84.2 L122.7,85.8 L123.9,87.4 L125.1,89.0 L126.2,90.6 L127.4,92.2 L128.6,93.9 L129.7,95.5 L130.9,97.1 L132.1,98.7 L133.3,100.3 L134.4,101.9 L135.6,103.6 L136.8,105.2 L138.0,106.8 L139.1,108.4 L140.3,110.1 L141.5,111.7 L142.7,113.3 L143.8,115.0 L145.0,116.6 L146.2,118.2 L147.4,119.9 L148.5,121.5 L149.7,123.1 L150.9,124.8 L152.1,126.4 L153.3,128.0 L154.5,129.7 L155.7,131.3 L156.9,132.9 L158.1,134.5 L159.3,136.1 L160.5,137.7 L161.7,139.3 L162.9,140.9 L164.2,142.5 L165.4,144.1 L166.7,145.7 L167.9,147.2 L169.2,148.8 L170.5,150.3 L171.8,151.9 L173.1,153.4 L174.4,154.9 L175.7,156.4 L177.0,157.9 L178.4,159.4 L179.7,160.8 L181.1,162.3 L182.4,163.7 L183.8,165.1 L185.2,166.5 L186.7,167.9 L188.1,169.3 L189.6,170.6 L191.0,172.0 L192.5,173.3 L194.0,174.6 L195.5,175.9 L197.0,177.1 L198.6,178.4 L200.2,179.6 L201.7,180.8 L203.3,182.0 L204.9,183.2 L206.6,184.3 L208.2,185.5 L209.9,186.6 L211.5,187.7 L213.2,188.8 L214.9,189.8 L216.6,190.9 L218.3,191.9 L220.0,192.9 L221.8,193.9 L223.5,194.9 L225.3,195.8 L227.1,196.8 L228.8,197.7 L230.6,198.6 L232.4,199.5 L234.2,200.4 L236.0,201.2 L237.9,202.1 L239.7,202.9 L241.5,203.7 L243.4,204.5 L245.2,205.3 L247.1,206.0 L248.9,206.8 L250.8,207.5 L252.7,208.2 L254.6,208.9 L256.4,209.6 L258.3,210.3 L260.2,211.0 L262.1,211.7 L263.9,212.4 L265.7,213.1 L267.5,213.9 L269.3,214.7 L271.1,215.6 L272.8,216.5 L274.5,217.4 L276.1,218.5 L277.8,219.6 L279.3,220.7 L280.9,221.9 L282.4,223.1 L283.9,224.4 L285.4,225.7 L286.9,227.1 L288.3,228.5 L289.8,229.9 L291.2,231.3 L292.7,232.7 L294.1,234.1 L295.5,235.6 L297.0,237.0 L298.5,238.4 L299.9,239.8 L301.4,241.2 L302.9,242.6 L304.4,244.0 L306.0,245.4 L307.5,246.7 L309.0,248.1 L310.5,249.5 L312.0,250.8 L313.4,252.2 L314.8,253.6 L316.2,255.0 L317.6,256.5 L318.9,258.0 L320.1,259.5 L321.3,261.0 L322.4,262.6 L323.4,264.2 L324.4,265.9 L325.3,267.6 L326.1,269.3 L326.8,271.1 L327.5,273.0 L328.1,274.9 L328.6,276.8 L329.2,278.7 L329.6,280.6 L330.0,282.6 L330.4,284.6 L330.8,286.5 L331.2,288.5 L331.5,290.5 L331.8,292.5 L332.2,294.5 L332.5,296.5 L332.7,298.5 L333.0,300.5 L333.3,302.5 L333.5,304.5 L333.8,306.5 L334.0,308.5 L334.3,310.5 L334.5,312.4 L334.7,314.4 L334.9,316.4 L335.1,318.4 L335.3,320.4 L335.4,322.4 L335.6,324.4 L335.8,326.4 L335.9,328.4 L336.1,330.4 L336.2,332.4 L336.4,334.4 L336.5,336.4 L336.7,338.4 L336.8,340.4 L336.9,342.4 L337.0,344.4 L337.2,346.4 L337.3,348.4 L337.4,350.4 L337.5,352.3 L337.6,354.3 L337.7,356.3 L337.9,358.3 L338.0,360.3 L338.1,362.3 L338.2,364.3 L338.3,366.3 L338.4,368.3 L338.5,370.3 L338.6,372.3 L338.7,374.3 L338.8,376.3 L338.9,378.3 L339.0,380.3 L339.1,382.3 L339.2,384.3 L339.3,386.3 L339.4,388.3 L339.5,390.3 L339.6,392.3 L339.6,394.3 L339.7,396.3 L339.8,398.3 L339.9,400.3 L340.0,402.3 L340.1,404.3 L340.1,406.3 L340.2,408.3 L340.3,410.3 L340.4,412.3 L340.5,414.3 L340.5,416.2 L340.6,418.2 L340.7,420.2 L340.8,422.2 L340.9,424.2 L340.9,426.2 L341.0,428.2 L341.1,430.2 L341.1,432.2 L341.2,434.2 L341.3,436.2 L341.4,438.2 L341.4,440.2 L341.5,442.2 L341.6,444.2 L341.6,446.2 L341.7,448.2 L341.8,450.2 L341.8,452.2 L341.9,454.2 L342.0,456.2 L342.0,458.2 L342.1,460.2 L342.1,462.2 L342.2,464.2 L342.3,466.2 L342.3,468.2 L342.4,470.2 L342.5,472.2 L342.5,474.2 L342.6,476.2 L342.6,478.2 L342.7,480.2 L342.8,482.2 L342.8,484.2 L342.9,486.2 L342.9,488.2 L343.0,490.2 L343.1,492.2 L343.1,494.2 L343.2,496.2 L343.2,498.2 L343.3,500.2" stroke="#f0794a" stroke-width="3.8"/>
<path d="M83.0,21.3 L83.4,23.3 L83.8,25.2 L84.2,27.2 L84.6,29.2 L85.0,31.1 L85.4,33.1 L85.8,35.0 L86.3,37.0 L86.7,38.9 L87.1,40.9 L87.5,42.8 L88.0,44.8 L88.4,46.7 L88.9,48.7 L89.3,50.6 L89.8,52.6 L90.2,54.5 L90.7,56.5 L91.1,58.4 L91.6,60.3 L92.0,62.3 L92.5,64.2 L93.0,66.1 L93.5,68.1 L93.9,70.0 L94.4,71.9 L94.9,73.9 L95.4,75.8 L95.9,77.7 L96.4,79.7 L96.9,81.6 L97.4,83.5 L97.9,85.4 L98.4,87.4 L98.9,89.3 L99.5,91.2 L100.0,93.1 L100.5,95.0 L101.0,97.0 L101.6,98.9 L102.1,100.8 L102.7,102.7 L103.2,104.6 L103.8,106.5 L104.3,108.5 L104.9,110.4 L105.4,112.3 L106.0,114.2 L106.6,116.1 L107.1,118.0 L107.7,119.9 L108.3,121.8 L108.9,123.8 L109.5,125.7 L110.1,127.6 L110.7,129.5 L111.3,131.4 L111.9,133.3 L112.5,135.2 L113.1,137.1 L113.7,139.0 L114.3,140.9 L115.0,142.8 L115.6,144.7 L116.2,146.6 L116.9,148.6 L117.5,150.5 L118.2,152.4 L118.8,154.3 L119.5,156.2 L120.1,158.1 L120.8,160.0 L121.5,161.9 L122.1,163.8 L122.8,165.7 L123.6,167.5 L124.3,169.4 L125.1,171.3 L125.8,173.1 L126.6,174.9 L127.5,176.7 L128.3,178.5 L129.2,180.3 L130.2,182.0 L131.1,183.8 L132.1,185.5 L133.2,187.1 L134.2,188.8 L135.4,190.4 L136.5,192.0 L137.7,193.6 L139.0,195.1 L140.3,196.6 L141.6,198.1 L142.9,199.6 L144.3,201.0 L145.7,202.5 L147.1,203.9 L148.5,205.3 L149.9,206.8 L151.3,208.2 L152.7,209.6 L154.1,211.1 L155.4,212.5 L156.7,214.0 L157.9,215.6 L159.1,217.1 L160.2,218.7 L161.2,220.4 L162.2,222.1 L163.0,223.9 L163.8,225.7 L164.5,227.6 L165.2,229.5 L165.9,231.4 L166.6,233.3 L167.3,235.2 L168.1,237.1 L168.9,238.9 L169.8,240.8 L170.7,242.6 L171.6,244.4 L172.5,246.2 L173.4,248.0 L174.3,249.8 L175.1,251.6 L175.9,253.5 L176.6,255.3 L177.2,257.2 L177.8,259.1 L178.3,261.0 L178.7,262.9 L179.0,264.9 L179.3,266.8 L179.6,268.8 L179.8,270.8 L180.0,272.8 L180.3,274.7 L180.5,276.7 L180.6,278.7 L180.8,280.7 L181.0,282.7 L181.2,284.7 L181.3,286.7 L181.5,288.6 L181.7,290.6 L181.8,292.6 L181.9,294.6 L182.1,296.6 L182.2,298.6 L182.3,300.6 L182.5,302.6 L182.6,304.6 L182.7,306.6 L182.8,308.6 L182.9,310.5 L183.0,312.5 L183.1,314.5 L183.2,316.5 L183.2,318.5 L183.3,320.5 L183.4,322.5 L183.5,324.5 L183.5,326.5 L183.6,328.5 L183.7,330.5 L183.7,332.5 L183.8,334.5 L183.8,336.5 L183.9,338.5 L183.9,340.5 L184.0,342.5 L184.0,344.5 L184.1,346.5 L184.1,348.5 L184.1,350.5 L184.2,352.5 L184.2,354.5 L184.2,356.5 L184.3,358.5 L184.3,360.5 L184.3,362.5 L184.4,364.5 L184.4,366.4 L184.4,368.4 L184.4,370.4 L184.5,372.4 L184.5,374.4 L184.5,376.4 L184.5,378.4 L184.6,380.4 L184.6,382.4 L184.6,384.4 L184.7,386.4 L184.7,388.4 L184.7,390.4 L184.8,392.4 L184.8,394.4 L184.8,396.4 L184.9,398.4 L184.9,400.4 L184.9,402.4 L185.0,404.4 L185.0,406.4 L185.0,408.4 L185.1,410.4 L185.1,412.4 L185.2,414.4 L185.2,416.4 L185.2,418.4 L185.3,420.4 L185.3,422.4 L185.4,424.3 L185.4,426.3 L185.4,428.3 L185.5,430.3 L185.5,432.3 L185.6,434.3 L185.6,436.3 L185.6,438.3 L185.7,440.3 L185.7,442.3 L185.8,444.3 L185.8,446.3 L185.8,448.3 L185.9,450.3 L185.9,452.3 L185.9,454.3 L186.0,456.3 L186.0,458.3 L186.0,460.3 L186.1,462.3 L186.1,464.3 L186.1,466.2 L186.2,468.2 L186.2,470.2 L186.2,472.2 L186.2,474.2 L186.3,476.2 L186.3,478.2 L186.3,480.2 L186.3,482.2 L186.3,484.2 L186.3,486.2 L186.4,488.2 L186.4,490.2 L186.4,492.2 L186.4,494.2 L186.4,496.2 L186.4,498.2 L186.4,500.2" stroke="#f0794a" stroke-width="3.8"/>
</g>
<text x="82.9" y="639.3" font-size="27.5" text-anchor="middle">0</text>
<text x="229.8" y="639.3" font-size="27.5" text-anchor="middle">1000</text>
<text x="376.6" y="639.3" font-size="27.5" text-anchor="middle">2000</text>
<text x="523.5" y="639.3" font-size="27.5" text-anchor="middle">3000</text>
<text x="670.4" y="639.3" font-size="27.5" text-anchor="middle">4000</text>
<text x="74.8" y="581.1" font-size="27.5" text-anchor="end">2.6</text>
<text x="74.8" y="511.1" font-size="27.5" text-anchor="end">2.8</text>
<text x="74.8" y="441.0" font-size="27.5" text-anchor="end">3</text>
<text x="74.8" y="370.9" font-size="27.5" text-anchor="end">3.2</text>
<text x="74.8" y="300.8" font-size="27.5" text-anchor="end">3.4</text>
<text x="74.8" y="230.7" font-size="27.5" text-anchor="end">3.6</text>
<text x="74.8" y="160.7" font-size="27.5" text-anchor="end">3.8</text>
<text x="74.8" y="90.6" font-size="27.5" text-anchor="end">4</text>
<text x="74.8" y="20.5" font-size="27.5" text-anchor="end">4.2</text>
<text x="376.5" y="672.2" font-size="29.5" text-anchor="middle">t (s)</text>
<g transform="translate(25.0,358.6) rotate(-90)"><text class="ser" font-size="34" font-style="italic" x="1.0" y="0">V</text><text class="ser" font-size="20.5" font-style="italic" x="19.4" y="3.8" letter-spacing="0.35">cell</text><text class="ser" font-size="33.5" transform="translate(54.4,0.6) scale(0.86,1)">(</text><text class="ser" font-size="34" font-style="italic" x="63.4" y="0">V</text><text class="ser" font-size="33.5" transform="translate(89.4,0.6) scale(0.86,1)">)</text></g>
<text x="125.6" y="482.8" font-size="23.8" class="k">5C</text>
<text x="287.9" y="482.8" font-size="23.8" class="k">2C</text>
<text x="553.6" y="482.8" font-size="23.8" class="k">1C</text>
<text x="538.2" y="590.8" font-size="18.2" class="k" textLength="113.2" lengthAdjust="spacing">1C ~ 17 A/m<tspan font-size="11" dy="-6.2">2</tspan></text>
<rect x="585.9" y="17.3" width="77.3" height="66.7" fill="#fff" stroke="#231f20" stroke-width="3.1"/>
<line x1="588.4" y1="28.8" x2="601.3" y2="28.8" stroke="#1a1008" stroke-width="2.8"/>
<rect x="614.5" y="27.6" width="1" height="2.8" fill="#1a1008"/>
<line x1="589" y1="50.2" x2="615.5" y2="50.2" stroke="#f2bf24" stroke-width="4"/>
<line x1="589" y1="71.7" x2="615.5" y2="71.7" stroke="#f0794a" stroke-width="4"/>
<text x="618.0" y="36.4" font-size="17.5" class="k">p2D</text>
<text x="618.7" y="56.7" font-size="17.8" class="k" letter-spacing="0.25">Tank</text>
<text x="618.3" y="77.6" font-size="17" class="k">SPM</text>
</svg></body></html>
